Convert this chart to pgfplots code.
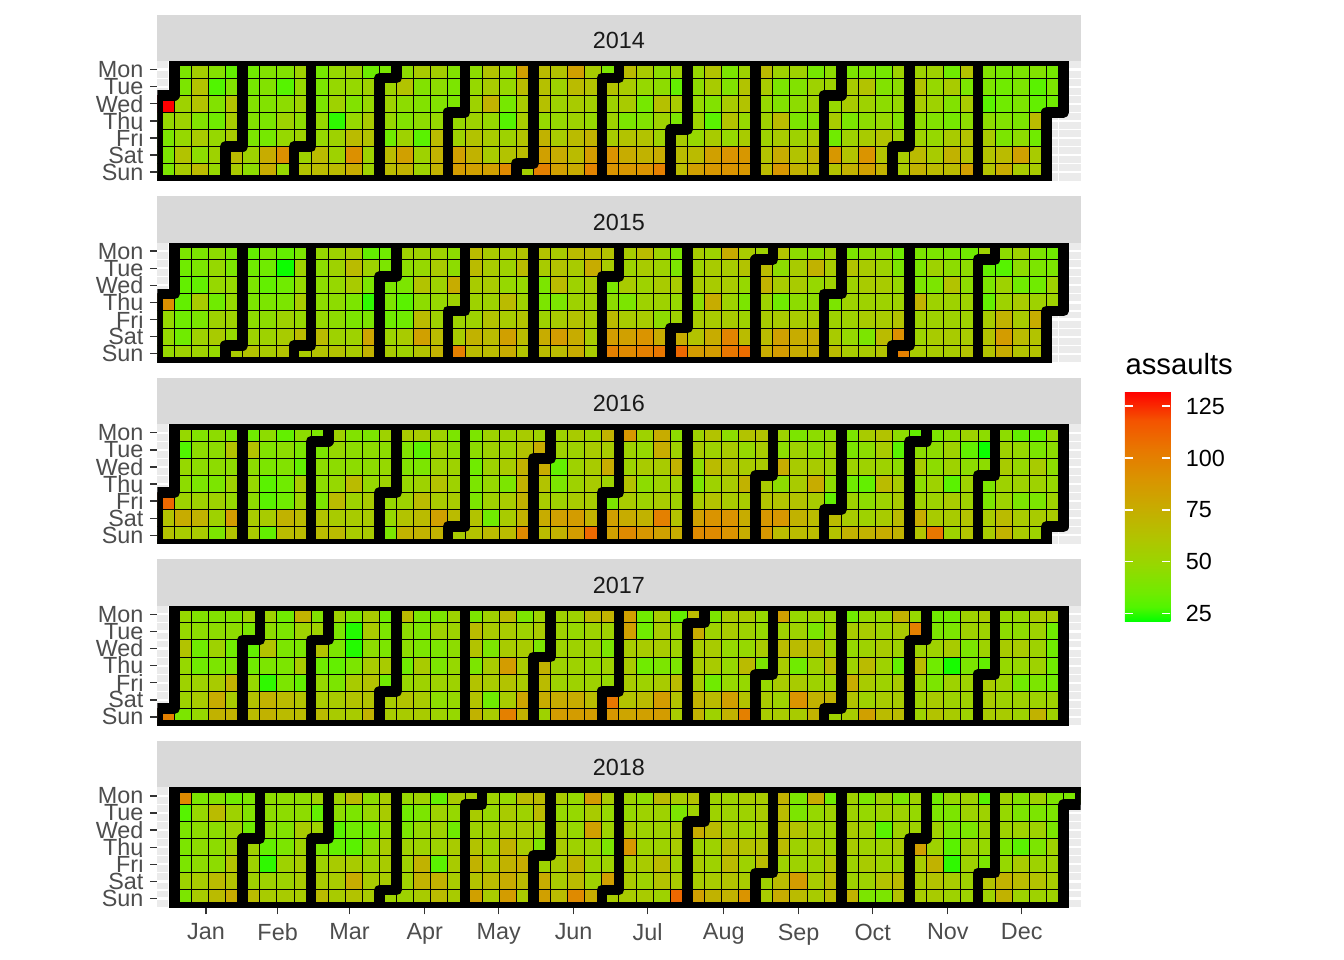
\documentclass[border=0pt]{standalone}
\usepackage{fontspec}
\setmainfont{Liberation Sans}
\usepackage{pgfplots}
\usepackage{pgfplotstable}
\pgfplotsset{compat=1.18}
\definecolor{gray92}{HTML}{EBEBEB}
\definecolor{gray85}{HTML}{D9D9D9}
\definecolor{gray30}{HTML}{4D4D4D}
\definecolor{gray20}{HTML}{333333}
\definecolor{gray10}{HTML}{1A1A1A}
\pgfplotsset{colormap={assault}{rgb255(0pt)=(0,255,0) rgb255(1pt)=(81,245,0) rgb255(2pt)=(112,235,0) rgb255(4pt)=(152,215,0) rgb255(6pt)=(179,194,0) rgb255(8pt)=(200,171,0) rgb255(10pt)=(218,147,0) rgb255(12pt)=(232,119,0) rgb255(14pt)=(244,83,0) rgb255(16pt)=(255,0,0)}}
\pgfplotsset{
 yr/.style={
  scale only axis, width=346.275bp, height=44.8875bp,
  xmin=-0.5, xmax=53.5, ymin=-0.5, ymax=6.5,
  axis background/.style={fill=gray92},
  axis line style={draw=none},
  clip marker paths=true,
  unbounded coords=discard, filter discard warning=false,
  colormap name=assault, point meta min=21, point meta max=132,
  ytick={0,1,2,3,4,5,6}, yticklabels={Sun,Sat,Fri,Thu,Wed,Tue,Mon},
  minor ytick={0.5,1.5,2.5,3.5,4.5,5.5},
  xtick={2.35,6.54,10.75,15.14,19.47,23.85,28.18,32.63,37.01,41.34,45.73,50.05},
  minor xtick={0.17,4.45,8.65,12.95,17.31,21.66,26.02,30.41,34.82,39.18,43.54,47.89,52.2},
  grid=both, major grid style={white, line width=0.8bp}, minor grid style={white, line width=0.4bp},
  tick pos=left, tick align=outside, major tick length=2.75bp, minor tick length=0pt,
  y tick style={gray20, line width=0.5bp},
  yticklabel style={font=\fontsize{8.8}{9}\selectfont, text=gray30, xshift=1.1bp},
  xticklabel style={font=\fontsize{8.8}{9}\selectfont, text=gray30},
 },
 top/.style={xticklabels={}, x tick style={draw=none}},
 tile/.style={scatter, only marks, mark=square*, mark size=3.206bp, point meta=explicit,
   scatter/use mapped color={draw=black, fill=mapped color, line width=0.375bp}},
 mline/.style={black, line width=4bp, line cap=round, line join=round, no markers, forget plot},
}
\newcommand{\tiles}[1]{\pgfplotsinvokeforeach{0,1,2,3,4,5,6}{\addplot[tile] table[x=w, y expr={6-##1+\thisrow{d##1}-\thisrow{d##1}}, meta=d##1] {#1};}}
\newcommand{\mb}[3]{\addplot[mline] coordinates {(#1,6.5) (#1,#2) (#3,#2) (#3,-0.5)};}
\newcommand{\strip}[2]{\fill[gray85] (#1.north west) rectangle ([yshift=17.4bp]#1.north east);
 \node[font=\fontsize{8.8}{9}\selectfont, text=gray10] at ([yshift=7.6bp]#1.north) {#2};}

\pgfplotstableread{
w d0 d1 d2 d3 d4 d5 d6
0 nan nan 132 48 39 39 39
1 39 39 52 52 48 62 57
2 55 62 62 41 57 45 67
3 42 28 41 35 48 52 48
4 32 41 62 57 57 67 58
5 35 37 41 41 39 52 45
6 41 41 41 39 37 76 76
7 41 29 45 52 48 92 48
8 52 48 52 45 52 52 62
9 37 39 39 48 48 67 67
10 48 48 52 25 52 52 67
11 52 48 41 48 67 92 76
12 34 52 48 57 62 52 52
13 38 52 52 48 35 67 67
14 45 62 45 41 52 83 72
15 57 41 41 45 30 52 52
16 54 45 41 48 67 72 72
17 41 39 39 48 52 83 85
18 45 48 52 52 62 72 83
19 62 57 72 48 57 57 83
20 48 48 37 29 52 62 95
21 83 67 57 57 62 67 54
22 67 64 64 48 72 83 100
23 62 52 52 48 57 76 83
24 83 67 57 52 67 67 76
25 57 62 54 48 72 85 98
26 39 62 52 52 57 90 90
27 67 57 57 39 62 76 88
28 57 48 37 41 62 72 90
29 45 45 64 52 52 76 100
30 52 32 57 39 57 67 67
31 48 45 48 52 48 67 83
32 62 57 41 30 57 83 88
33 39 41 57 62 48 90 90
34 52 62 62 48 57 88 88
35 67 57 48 52 52 62 67
36 52 39 41 67 57 76 88
37 52 41 45 39 52 62 72
38 37 52 52 41 57 72 67
39 45 52 48 57 35 88 62
40 39 57 57 39 52 62 72
41 41 62 52 45 57 90 83
42 37 41 45 48 62 62 72
43 52 45 48 41 52 57 57
44 52 62 57 45 52 67 72
45 52 48 52 41 48 57 67
46 35 57 41 37 57 72 67
47 62 39 57 45 62 62 83
48 41 39 30 45 57 62 62
49 37 35 35 41 39 67 76
50 39 39 39 39 45 83 57
51 41 30 32 67 35 57 57
52 37 39 35 nan nan nan nan
}\tabA

\pgfplotstableread{
w d0 d1 d2 d3 d4 d5 d6
0 nan nan nan 92 48 48 48
1 39 35 32 32 35 35 52
2 39 39 32 57 39 52 52
3 45 48 48 35 52 57 48
4 39 39 48 48 52 48 57
5 32 35 39 39 45 52 62
6 39 35 32 39 45 52 57
7 32 22 35 39 52 57 62
8 39 52 48 57 48 67 57
9 48 45 45 45 48 67 62
10 52 52 48 45 45 52 62
11 57 67 57 39 39 52 57
12 32 52 39 25 39 80 72
13 35 39 39 39 35 52 57
14 52 45 39 30 35 57 52
15 52 48 62 45 67 83 62
16 52 57 52 48 52 67 72
17 45 45 76 52 52 57 100
18 67 67 57 52 52 72 67
19 57 57 57 52 62 67 67
20 57 52 48 67 57 83 76
21 62 67 48 52 62 67 62
22 62 57 39 39 52 76 67
23 57 62 67 39 57 85 67
24 67 57 52 52 62 76 76
25 67 76 57 52 57 57 57
26 62 57 39 45 67 85 100
27 57 52 57 39 57 83 95
28 67 57 52 52 57 90 100
29 52 52 57 52 45 76 104
30 39 39 57 48 52 76 110
31 57 52 57 45 57 62 85
32 52 57 57 76 57 76 85
33 76 57 57 52 57 98 104
34 57 62 48 39 52 67 108
35 52 67 72 52 57 67 76
36 62 45 57 35 57 83 85
37 45 57 57 45 57 76 76
38 45 72 48 45 57 76 76
39 52 57 52 39 52 57 67
40 39 62 52 52 52 48 57
41 45 57 57 52 57 39 57
42 45 52 57 52 57 67 62
43 35 39 48 52 62 92 100
44 39 39 39 72 52 52 57
45 39 52 39 52 52 57 57
46 39 45 62 52 52 57 57
47 35 45 45 52 52 57 62
48 52 32 39 32 57 62 62
49 45 29 52 52 72 85 76
50 52 45 35 57 57 67 62
51 39 39 35 52 76 62 62
52 35 39 52 52 nan nan nan
}\tabB

\pgfplotstableread{
w d0 d1 d2 d3 d4 d5 d6
0 nan nan nan nan 110 62 62
1 48 28 48 45 52 76 57
2 41 45 45 39 52 72 57
3 45 45 45 39 52 52 39
4 39 62 45 52 48 85 62
5 35 62 45 48 45 57 57
6 45 41 39 30 30 57 32
7 32 45 41 35 35 72 67
8 45 39 32 57 52 67 67
9 39 39 45 45 39 62 67
10 52 48 45 48 67 57 67
11 41 45 45 67 52 57 57
12 39 45 45 48 57 57 57
13 52 45 48 52 48 48 39
14 57 41 41 48 52 62 72
15 57 30 39 52 67 67 72
16 52 52 52 62 57 83 72
17 39 45 52 52 57 67 57
18 39 45 35 39 39 62 62
19 52 52 52 48 52 35 67
20 52 52 57 39 57 57 67
21 57 62 72 72 72 72 95
22 52 76 76 62 57 76 67
23 52 52 32 39 52 83 72
24 57 52 52 52 57 85 85
25 52 57 57 57 57 72 110
26 72 57 76 52 39 83 83
27 88 52 52 62 57 76 95
28 52 48 57 45 52 72 88
29 76 76 57 52 57 100 83
30 45 52 72 52 52 62 76
31 52 57 45 39 57 83 95
32 62 52 67 52 62 90 95
33 45 57 62 57 57 90 90
34 62 48 57 72 57 76 76
35 62 57 57 57 62 88 88
36 52 45 76 45 62 88 67
37 39 52 57 57 62 72 67
38 45 45 57 76 57 67 67
39 45 52 52 45 32 67 62
40 39 39 52 35 52 57 72
41 57 45 52 32 45 52 72
42 62 57 52 67 52 57 76
43 45 30 45 57 57 67 72
44 32 45 57 45 52 76 62
45 39 45 45 52 52 57 104
46 45 52 52 30 57 57 52
47 52 32 45 52 52 62 62
48 45 22 45 39 39 57 57
49 45 52 57 52 52 67 72
50 32 48 48 52 39 57 57
51 32 39 57 52 39 57 52
52 48 45 45 48 52 57 nan
}\tabC

\pgfplotstableread{
w d0 d1 d2 d3 d4 d5 d6
0 nan nan nan nan nan nan 100
1 48 48 62 48 52 52 39
2 41 45 35 35 52 57 48
3 41 45 52 39 57 76 72
4 41 45 35 39 72 57 72
5 52 39 32 35 48 62 67
6 52 45 62 39 25 72 72
7 35 39 39 39 39 67 67
8 72 52 39 57 32 62 67
9 41 52 62 35 48 57 67
10 52 39 39 32 39 57 57
11 39 24 24 39 57 62 57
12 57 57 45 57 62 62 72
13 35 39 39 57 35 57 57
14 67 45 45 35 48 62 57
15 39 39 39 57 52 57 57
16 39 52 39 39 52 45 52
17 52 52 45 48 52 48 48
18 39 67 62 39 62 62 72
19 52 57 39 57 57 35 57
20 67 57 57 85 62 57 100
21 39 52 57 57 57 80 72
22 52 57 39 72 67 76 52
23 52 52 52 52 52 76 85
24 52 48 52 52 52 76 85
25 67 52 52 48 52 67 85
26 72 52 39 52 48 104 88
27 83 83 57 57 57 62 80
28 35 35 57 35 52 67 83
29 57 57 57 39 57 85 85
30 32 48 52 39 67 62 57
31 67 76 57 57 57 72 72
32 39 52 57 57 35 67 52
33 57 57 48 48 48 83 72
34 57 52 48 67 48 62 100
35 48 48 57 39 48 57 57
36 83 52 67 57 57 52 57
37 48 52 67 35 57 90 57
38 52 39 67 52 52 72 72
39 48 52 52 67 52 72 52
40 35 57 48 52 76 62 57
41 48 57 52 67 57 52 83
42 48 52 57 52 52 57 67
43 72 57 52 32 57 57 67
44 48 100 52 67 52 52 52
45 35 39 52 35 39 57 62
46 35 39 57 23 52 52 57
47 52 52 39 39 52 52 52
48 57 52 52 32 57 57 57
49 48 45 57 48 52 52 57
50 48 45 57 48 35 52 52
51 57 52 52 52 39 52 72
52 57 35 35 35 35 52 52
}\tabD

\pgfplotstableread{
w d0 d1 d2 d3 d4 d5 d6
1 95 29 39 39 39 52 39
2 39 48 45 45 45 57 57
3 41 67 45 45 45 67 67
4 35 52 52 52 62 62 76
5 39 41 35 52 52 52 67
6 45 45 45 32 25 52 57
7 45 45 41 39 52 52 57
8 45 45 57 52 57 57 57
9 52 32 52 39 52 57 67
10 52 45 30 32 57 57 57
11 67 39 35 30 57 76 62
12 45 48 35 45 52 57 57
13 57 57 48 57 57 57 52
14 48 35 39 52 52 52 52
15 52 39 48 52 72 72 57
16 32 52 52 52 30 72 67
17 57 48 35 57 57 57 57
18 57 57 52 62 72 62 83
19 52 48 52 52 57 67 57
20 48 57 57 72 72 76 85
21 67 52 57 57 76 67 57
22 67 67 52 39 52 76 83
23 57 48 57 57 57 57 67
24 48 48 48 52 72 67 95
25 85 57 83 52 52 52 76
26 57 48 52 39 52 83 57
27 52 48 57 88 57 57 57
28 45 52 52 52 57 52 57
29 67 52 52 52 67 62 52
30 57 39 57 57 52 57 110
31 62 52 76 52 57 57 83
32 52 52 67 52 52 57 72
33 52 52 57 67 67 62 72
34 57 52 52 62 52 57 90
35 57 57 57 62 67 52 57
36 72 67 67 67 52 67 76
37 39 39 62 52 52 85 67
38 76 48 52 57 52 57 57
39 35 52 52 52 62 67 67
40 52 52 57 57 52 52 72
41 39 48 52 52 57 52 39
42 52 52 30 52 52 62 39
43 39 52 52 57 52 67 62
44 52 48 52 83 57 57 57
45 35 39 52 52 72 62 57
46 48 39 39 30 25 57 52
47 52 52 39 52 52 52 52
48 29 52 52 48 39 62 52
49 52 48 52 39 48 72 72
50 41 39 52 30 57 67 52
51 52 39 52 39 52 62 52
52 39 39 39 52 52 57 52
53 39 nan nan nan nan nan nan
}\tabE

\begin{document}
\begin{tikzpicture}
\useasboundingbox (0,0) rectangle (504bp,360bp);

% 2014
\begin{axis}[yr, top, name=a14, at={(58.97bp,337.125bp)}, anchor=north west]
\tiles{\tabA}
\mb{0.5}{4.5}{-0.5}\mb{4.5}{1.5}{3.5}\mb{8.5}{1.5}{7.5}\mb{13.5}{5.5}{12.5}\mb{17.5}{3.5}{16.5}\mb{21.5}{0.5}{20.5}\mb{26.5}{5.5}{25.5}\mb{30.5}{2.5}{29.5}\mb{34.5}{6.5}{34.5}\mb{39.5}{4.5}{38.5}\mb{43.5}{1.5}{42.5}\mb{47.5}{6.5}{47.5}\mb{52.5}{3.5}{51.5}
\addplot[mline] coordinates {(0.5,6.5) (52.5,6.5)};
\addplot[mline] coordinates {(-0.5,-0.5) (51.5,-0.5)};
\end{axis}
\strip{a14}{2014}

% 2015
\begin{axis}[yr, top, name=a15, at={(58.97bp,269.025bp)}, anchor=north west]
\tiles{\tabB}
\mb{0.5}{3.5}{-0.5}\mb{4.5}{0.5}{3.5}\mb{8.5}{0.5}{7.5}\mb{13.5}{4.5}{12.5}\mb{17.5}{2.5}{16.5}\mb{21.5}{6.5}{21.5}\mb{26.5}{4.5}{25.5}\mb{30.5}{1.5}{29.5}\mb{35.5}{5.5}{34.5}\mb{39.5}{3.5}{38.5}\mb{43.5}{0.5}{42.5}\mb{48.5}{5.5}{47.5}\mb{52.5}{2.5}{51.5}
\addplot[mline] coordinates {(0.5,6.5) (52.5,6.5)};
\addplot[mline] coordinates {(-0.5,-0.5) (51.5,-0.5)};
\end{axis}
\strip{a15}{2015}

% 2016
\begin{axis}[yr, top, name=a16, at={(58.97bp,200.925bp)}, anchor=north west,
  colorbar, colorbar/width=17.1bp,
  colorbar style={
    at={(parent axis.north east)}, anchor=north west, xshift=8.05bp, yshift=12.19bp,
    height=86.25bp,
    ytick={25,50,75,100,125},
    tick align=inside, major tick length=3.2bp, tick pos=both, ytick pos=both, yticklabel pos=right,
    y tick style={white, line width=0.6bp},
    axis line style={draw=none},
    yticklabel style={font=\fontsize{8.8}{9}\selectfont, text=black, xshift=2.3bp},
    /pgf/number format/assume math mode=true,
  }]
\tiles{\tabC}
\mb{0.5}{2.5}{-0.5}\mb{4.5}{6.5}{4.5}\mb{9.5}{5.5}{8.5}\mb{13.5}{2.5}{12.5}\mb{17.5}{0.5}{16.5}\mb{22.5}{4.5}{21.5}\mb{26.5}{2.5}{25.5}\mb{30.5}{6.5}{30.5}\mb{35.5}{3.5}{34.5}\mb{39.5}{1.5}{38.5}\mb{44.5}{5.5}{43.5}\mb{48.5}{3.5}{47.5}\mb{52.5}{0.5}{51.5}
\addplot[mline] coordinates {(0.5,6.5) (52.5,6.5)};
\addplot[mline] coordinates {(-0.5,-0.5) (51.5,-0.5)};
\end{axis}
\strip{a16}{2016}

% 2017
\begin{axis}[yr, top, name=a17, at={(58.97bp,132.825bp)}, anchor=north west]
\tiles{\tabD}
\mb{0.5}{0.5}{-0.5}\mb{5.5}{4.5}{4.5}\mb{9.5}{4.5}{8.5}\mb{13.5}{1.5}{12.5}\mb{17.5}{6.5}{17.5}\mb{22.5}{3.5}{21.5}\mb{26.5}{1.5}{25.5}\mb{31.5}{5.5}{30.5}\mb{35.5}{2.5}{34.5}\mb{39.5}{0.5}{38.5}\mb{44.5}{4.5}{43.5}\mb{48.5}{2.5}{47.5}\mb{52.5}{6.5}{52.5}
\addplot[mline] coordinates {(0.5,6.5) (52.5,6.5)};
\addplot[mline] coordinates {(-0.5,-0.5) (52.5,-0.5)};
\end{axis}
\strip{a17}{2017}

% 2018
\begin{axis}[yr, name=a18, at={(58.97bp,64.725bp)}, anchor=north west,
  xticklabels={Jan,Feb,Mar,Apr,May,Jun,Jul,Aug,Sep,Oct,Nov,Dec},
  x tick style={gray20, line width=0.5bp}]
\tiles{\tabE}
\mb{0.5}{6.5}{0.5}\mb{5.5}{3.5}{4.5}\mb{9.5}{3.5}{8.5}\mb{13.5}{0.5}{12.5}\mb{18.5}{5.5}{17.5}\mb{22.5}{2.5}{21.5}\mb{26.5}{0.5}{25.5}\mb{31.5}{4.5}{30.5}\mb{35.5}{1.5}{34.5}\mb{39.5}{6.5}{39.5}\mb{44.5}{3.5}{43.5}\mb{48.5}{1.5}{47.5}\mb{53.5}{5.5}{52.5}
\addplot[mline] coordinates {(0.5,6.5) (53.5,6.5)};
\addplot[mline] coordinates {(0.5,-0.5) (52.5,-0.5)};
\end{axis}
\strip{a18}{2018}

\node[anchor=base west, font=\fontsize{11}{13}\selectfont, inner sep=0pt] at (421.875bp,219.375bp) {assaults};
\end{tikzpicture}
\end{document}
